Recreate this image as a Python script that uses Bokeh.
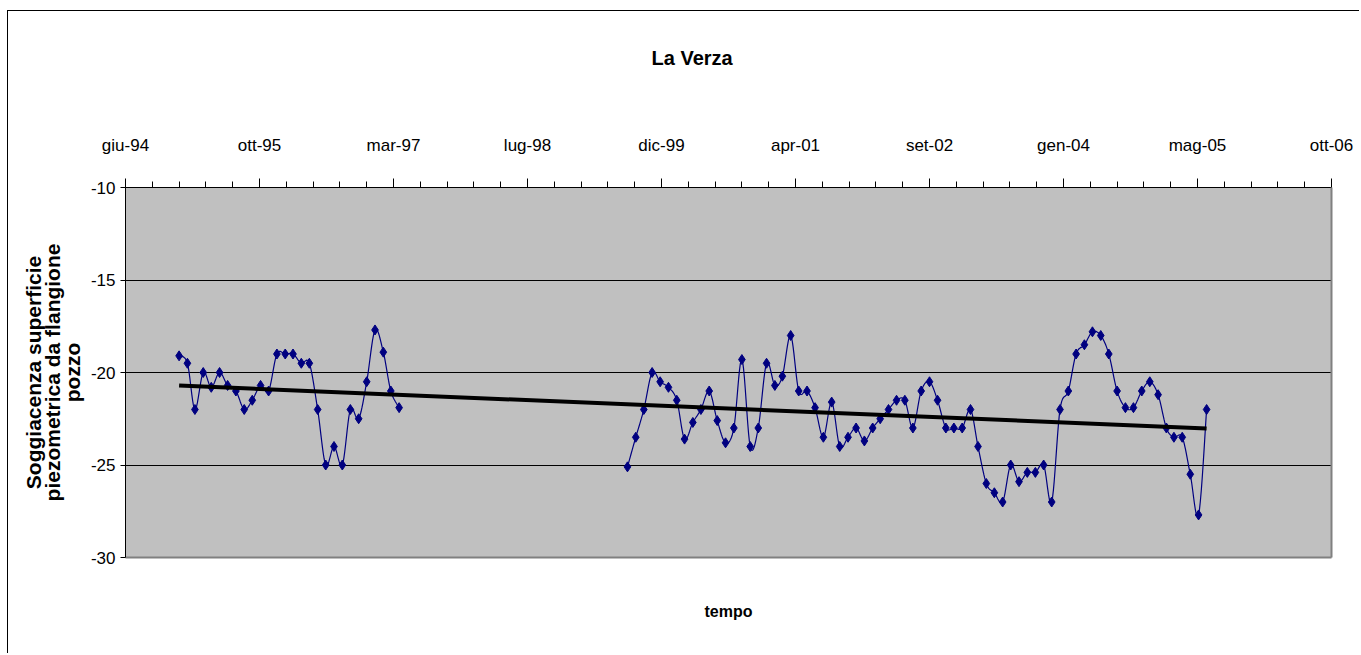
import numpy as np
import pandas as pd
from bokeh.plotting import figure
from bokeh.models import Range1d, FixedTicker, LinearAxis
from bokeh.embed import file_html
from bokeh.resources import INLINE

# ---------------- data ----------------
title_text = "La Verza"
x_label = "tempo"
y_label = "Soggiacenza superficie\npiezometrica da flangione\npozzo"

dates_1 = [
    "1995-01-01", "1995-02-01", "1995-03-01", "1995-04-01", "1995-05-01", "1995-06-01",
    "1995-07-01", "1995-08-01", "1995-09-01", "1995-10-01", "1995-11-01", "1995-12-01",
    "1996-01-01", "1996-02-01", "1996-03-01", "1996-04-01", "1996-05-01", "1996-06-01",
    "1996-07-01", "1996-08-01", "1996-09-01", "1996-10-01", "1996-11-01", "1996-12-01",
    "1997-01-01", "1997-02-01", "1997-03-01", "1997-04-01",
]
level_1 = [
    -19.1, -19.5, -22.0, -20.0, -20.8, -20.0,
    -20.7, -21.0, -22.0, -21.5, -20.7, -21.0,
    -19.0, -19.0, -19.0, -19.5, -19.5, -22.0,
    -25.0, -24.0, -25.0, -22.0, -22.5, -20.5,
    -17.7, -18.9, -21.0, -21.9,
]

dates_2 = [
    "1999-08-01", "1999-09-01", "1999-10-01", "1999-11-01", "1999-12-01",
    "2000-01-01", "2000-02-01", "2000-03-01", "2000-04-01", "2000-05-01", "2000-06-01",
    "2000-07-01", "2000-08-01", "2000-09-01", "2000-10-01", "2000-11-01", "2000-12-01",
    "2001-01-01", "2001-02-01", "2001-03-01", "2001-04-01", "2001-05-01", "2001-06-01",
    "2001-07-01", "2001-08-01", "2001-09-01", "2001-10-01", "2001-11-01", "2001-12-01",
    "2002-01-01", "2002-02-01", "2002-03-01", "2002-04-01", "2002-05-01", "2002-06-01",
    "2002-07-01", "2002-08-01", "2002-09-01", "2002-10-01", "2002-11-01", "2002-12-01",
    "2003-01-01", "2003-02-01", "2003-03-01", "2003-04-01", "2003-05-01", "2003-06-01",
    "2003-07-01", "2003-08-01", "2003-09-01", "2003-10-01", "2003-11-01", "2003-12-01",
    "2004-01-01", "2004-02-01", "2004-03-01", "2004-04-01", "2004-05-01", "2004-06-01",
    "2004-07-01", "2004-08-01", "2004-09-01", "2004-10-01", "2004-11-01", "2004-12-01",
    "2005-01-01", "2005-02-01", "2005-03-01", "2005-04-01", "2005-05-01", "2005-06-01",
    "2005-07-01",
]
level_2 = [
    -25.1, -23.5, -22.0, -20.0, -20.5,
    -20.8, -21.5, -23.6, -22.7, -22.0, -21.0,
    -22.6, -23.8, -23.0, -19.3, -24.0, -23.0,
    -19.5, -20.7, -20.2, -18.0, -21.0, -21.0,
    -21.9, -23.5, -21.6, -24.0, -23.5, -23.0,
    -23.7, -23.0, -22.5, -22.0, -21.5, -21.5,
    -23.0, -21.0, -20.5, -21.5, -23.0, -23.0,
    -23.0, -22.0, -24.0, -26.0, -26.5, -27.0,
    -25.0, -25.9, -25.4, -25.4, -25.0, -27.0,
    -22.0, -21.0, -19.0, -18.5, -17.8, -18.0,
    -19.0, -21.0, -21.9, -21.9, -21.0, -20.5,
    -21.2, -23.0, -23.5, -23.5, -25.5, -27.7,
    -22.0,
]

tick_labels = ["giu-94", "ott-95", "mar-97", "lug-98", "dic-99",
               "apr-01", "set-02", "gen-04", "mag-05", "ott-06"]
axis_start = "1994-06-15"
major_step_days = 500
minor_step_days = 100
y_ticks = [-30, -25, -20, -15, -10]
y_tick_labels = ["-30", "-25", "-20", "-15", "-10"]
y_grid = [-25, -20, -15]

# ---------------- helpers ----------------
EPOCH = pd.Timestamp("1970-01-01")


def to_ms(ts):
    return (pd.Timestamp(ts) - EPOCH) / pd.Timedelta(milliseconds=1)


def smooth(xs, ys, n=10):
    """Catmull-Rom path through the measured points (drawing only)."""
    xs = np.asarray(xs, float)
    ys = np.asarray(ys, float)
    m = len(xs)
    ox, oy = [], []
    for i in range(m - 1):
        i0 = max(i - 1, 0)
        i3 = min(i + 2, m - 1)
        t = np.linspace(0, 1, n, endpoint=False)
        for arr, out in ((xs, ox), (ys, oy)):
            p0, p1, p2, p3 = arr[i0], arr[i], arr[i + 1], arr[i3]
            out.extend(0.5 * (2 * p1 + (-p0 + p2) * t
                              + (2 * p0 - 5 * p1 + 4 * p2 - p3) * t ** 2
                              + (-p0 + 3 * p1 - 3 * p2 + p3) * t ** 3))
    ox.append(xs[-1])
    oy.append(ys[-1])
    return ox, oy


x1 = [to_ms(d) for d in dates_1]
x2 = [to_ms(d) for d in dates_2]

start_ts = pd.Timestamp(axis_start)
major_ms = [to_ms(start_ts + pd.Timedelta(days=major_step_days * k)) for k in range(len(tick_labels))]
n_minor = (len(tick_labels) - 1) * major_step_days // minor_step_days + 1
minor_ms = [to_ms(start_ts + pd.Timedelta(days=minor_step_days * k)) for k in range(n_minor)]

# ---------------- figure ----------------
FONT = "Liberation Sans"

p = figure(width=1352, height=643, x_axis_type="datetime", x_axis_location="above",
           x_range=Range1d(major_ms[0], major_ms[-1]), y_range=Range1d(y_ticks[0], y_ticks[-1]),
           output_backend="svg", toolbar_location=None,
           min_border_left=117, min_border_right=29, min_border_top=176, min_border_bottom=97,
           background_fill_color="#C0C0C0", border_fill_color="white", outline_line_color=None)
p.styles = {"margin-left": "7px", "margin-top": "10px",
            "border-left": "1px solid black", "border-top": "1px solid black"}

# title (outermost panel above the date axis)
p.title.text = title_text
p.title.align = "left"
p.title.offset = 526
p.title.standoff = 0
p.title.text_font = FONT
p.title.text_font_style = "bold"
p.title.text_font_size = "20px"
p.title.text_color = "black"

# grid
p.xgrid.visible = False
p.ygrid.ticker = FixedTicker(ticks=y_grid)
p.ygrid.grid_line_color = "black"
p.ygrid.grid_line_width = 1

# top date axis
xa = p.xaxis[0]
xa.ticker = FixedTicker(ticks=major_ms, minor_ticks=minor_ms)
xa.major_label_overrides = {m: lab for m, lab in zip(major_ms, tick_labels)}
xa.major_tick_out = 9
xa.major_tick_in = 0
xa.minor_tick_out = 6
xa.minor_tick_in = 0
xa.axis_line_color = "black"
xa.major_tick_line_color = "black"
xa.minor_tick_line_color = "black"
xa.major_label_standoff = 24
xa.major_label_text_font = FONT
xa.major_label_text_font_size = "17px"
xa.major_label_text_color = "black"
# blank spacer label that leaves room between the date labels and the title
xa.axis_label = " "
xa.axis_label_text_font_size = "1px"
xa.axis_label_standoff = 60

# left axis
ya = p.yaxis[0]
ya.ticker = FixedTicker(ticks=y_ticks, minor_ticks=[])
ya.major_label_overrides = {t: lab for t, lab in zip(y_ticks, y_tick_labels)}
ya.major_tick_out = 5
ya.major_tick_in = 0
ya.axis_line_color = "black"
ya.major_tick_line_color = "black"
ya.major_label_standoff = 5
ya.major_label_text_font = FONT
ya.major_label_text_font_size = "17px"
ya.major_label_text_color = "black"
ya.axis_label = y_label
ya.axis_label_text_font = FONT
ya.axis_label_text_font_style = "bold"
ya.axis_label_text_font_size = "21px"
ya.axis_label_text_line_height = 0.85
ya.axis_label_standoff = 4
ya.axis_label_text_color = "black"

# bottom axis: carries "tempo" and the frame's grey shadow edge
ba = LinearAxis(ticker=FixedTicker(ticks=[]), axis_label=x_label,
                axis_line_color="#808080", axis_line_width=2,
                major_tick_line_color=None, minor_tick_line_color=None,
                major_label_text_font_size="0px", major_label_standoff=0,
                axis_label_standoff=45, axis_label_text_font=FONT,
                axis_label_text_font_style="bold", axis_label_text_font_size="16px",
                axis_label_text_color="black")
p.add_layout(ba, "below")

ra = LinearAxis(ticker=FixedTicker(ticks=[]), axis_line_color="#808080", axis_line_width=2,
                major_tick_line_color=None, minor_tick_line_color=None,
                major_label_text_font_size="0px")
p.add_layout(ra, "right")

# smoothed series line (gap between the two survey periods)
sx1, sy1 = smooth(x1, level_1)
sx2, sy2 = smooth(x2, level_2)
p.line(sx1 + [np.nan] + sx2, sy1 + [np.nan] + sy2, line_color="#000080", line_width=1.2)

# markers
p.scatter(x1 + x2, level_1 + level_2, marker="diamond", size=10,
          fill_color="#000080", line_color="#000080")

# linear trend line over all measurements
all_x = np.array(x1 + x2)
all_y = np.array(level_1 + level_2)
days = (all_x - all_x[0]) / 86400000.0
k, c = np.polyfit(days, all_y, 1)
tx = [all_x.min(), all_x.max()]
ty = [c + k * (t - all_x[0]) / 86400000.0 for t in tx]
p.line(tx, ty, line_color="black", line_width=4)

open("out.html", "w").write(file_html(p, INLINE))
